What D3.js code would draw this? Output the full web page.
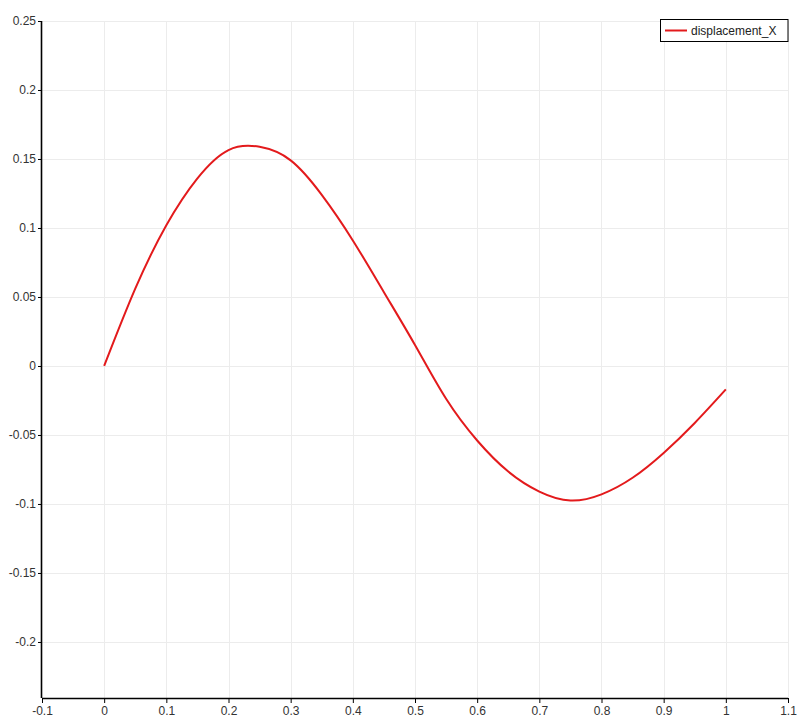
<!DOCTYPE html>
<html><head><meta charset="utf-8">
<script src="https://cdn.jsdelivr.net/npm/d3@7"></script>
<style>
html,body{margin:0;padding:0;background:#fff;}
svg{display:block;font-family:"Liberation Sans",Arial,sans-serif;}
</style></head>
<body>
<svg id="c" width="808" height="725"></svg>
<script>
const seriesName = "displacement_X";
const xValues = [0,0.05,0.1,0.15,0.2,0.25,0.3,0.35,0.4,0.45,0.5,0.55,0.6,0.65,0.7,0.75,0.8,0.85,0.9,0.95,1.0];
const yValues = [0,0.056,0.102,0.136,0.1565,0.1588,0.149,0.124,0.091,0.0535,0.0152,-0.0238,-0.054,-0.0765,-0.091,-0.0975,-0.093,-0.081,-0.063,-0.0413,-0.017];
const xTicks = [-0.1,0,0.1,0.2,0.3,0.4,0.5,0.6,0.7,0.8,0.9,1,1.1];
const yTicks = [-0.2,-0.15,-0.1,-0.05,0,0.05,0.1,0.15,0.2,0.25];
const xDomain = [-0.1,1.1];
const yDomain = [-0.2406,0.25];

const svg = d3.select("#c");
const L=42, R=788, T=21, B=698;
const x = d3.scaleLinear().domain(xDomain).range([L,R]);
const y = d3.scaleLinear().domain(yDomain).range([B,T]);

const grid = svg.append("g").attr("stroke","#ececec").attr("stroke-width",1);
grid.selectAll("line.v").data(xTicks.slice(1)).enter().append("line")
  .attr("x1",d=>Math.round(x(d))+0.5).attr("x2",d=>Math.round(x(d))+0.5).attr("y1",T).attr("y2",B);
grid.selectAll("line.h").data(yTicks).enter().append("line")
  .attr("y1",d=>Math.round(y(d))+0.5).attr("y2",d=>Math.round(y(d))+0.5).attr("x1",L).attr("x2",R);

const fmt = d => String(+d.toFixed(3));
const xa = svg.append("g").attr("transform",`translate(0,${B})`)
  .call(d3.axisBottom(x).tickValues(xTicks).tickSize(5).tickPadding(3).tickFormat(fmt));
const ya = svg.append("g").attr("transform",`translate(${L},0)`)
  .call(d3.axisLeft(y).tickValues(yTicks).tickSize(4).tickPadding(2).tickFormat(fmt));
[xa,ya].forEach(a=>{
  a.select(".domain").attr("stroke","#000").attr("stroke-width",1.6);
  a.selectAll(".tick line").attr("stroke","#000").attr("stroke-width",1);
  a.selectAll("text").attr("fill","#333").attr("font-size",12).attr("font-family","Liberation Sans, Arial, sans-serif");
});
xa.select(".domain").attr("d",`M${L},0.5H${R}`);
ya.select(".domain").attr("d",`M-0.5,${T}V${B}`);

const data = xValues.map((v,i)=>[v,yValues[i]]);
svg.append("path").datum(data)
  .attr("fill","none").attr("stroke","#e31a1c").attr("stroke-width",2)
  .attr("d", d3.line().x(d=>x(d[0])).y(d=>y(d[1])).curve(d3.curveNatural));

const lg = svg.append("g");
lg.append("rect").attr("x",660.5).attr("y",19.5).attr("width",127.5).attr("height",22)
  .attr("fill","#fff").attr("stroke","#000").attr("stroke-width",1);
lg.append("line").attr("x1",665).attr("x2",687).attr("y1",30.5).attr("y2",30.5)
  .attr("stroke","#e31a1c").attr("stroke-width",2);
lg.append("text").attr("x",691).attr("y",35).attr("font-size",12).attr("fill","#222").text(seriesName);
</script>
</body></html>
